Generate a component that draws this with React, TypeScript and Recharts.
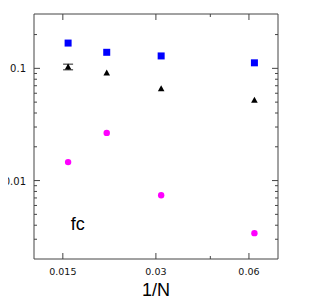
import React from 'react';
import { ScatterChart, Scatter, XAxis, YAxis, ErrorBar, ReferenceDot } from 'recharts';

// 1/N values
const invN = [0.0156, 0.0208, 0.0312, 0.0625];
const squareVals = [0.168, 0.139, 0.129, 0.112];
const triangleVals = [0.103, 0.091, 0.0657, 0.052];
const triangleErr: (number | null)[] = [0.006, null, null, null];
const circleVals = [0.0146, 0.0266, 0.0074, 0.0034];

const xTicks = [0.015, 0.03, 0.045, 0.06];
const xMajor = [0.015, 0.03, 0.06];
const yTicks = [0.003, 0.004, 0.005, 0.006, 0.007, 0.008, 0.009, 0.01, 0.02, 0.03, 0.04, 0.05, 0.06, 0.07, 0.08, 0.09, 0.1, 0.2];
const yMajor = [0.01, 0.1];
const xLabel = '1/N';
const annotation = 'fc';

const squareData = invN.map((x, i) => ({ x, y: squareVals[i] }));
const triangleData = invN.map((x, i) => ({ x, y: triangleVals[i], err: triangleErr[i] }));
const circleData = invN.map((x, i) => ({ x, y: circleVals[i] }));

const FRAME = '#444';
const MAJ = 6;
const MIN = 3;

const BottomTick = (p: any) => {
  const v = p.payload.value;
  const major = xMajor.includes(v);
  return (
    <g>
      <line x1={p.x} x2={p.x} y1={p.y} y2={p.y - (major ? MAJ : MIN)} stroke={FRAME} />
      {major && (
        <text x={p.x} y={p.y + 16} textAnchor="middle" fontSize={9.5} fontFamily="DejaVu Sans" fill="#111">
          {String(v)}
        </text>
      )}
    </g>
  );
};
const TopTick = (p: any) => {
  const v = p.payload.value;
  const major = xMajor.includes(v);
  return <line x1={p.x} x2={p.x} y1={p.y} y2={p.y + (major ? MAJ : MIN)} stroke={FRAME} />;
};
const LeftTick = (p: any) => {
  const v = p.payload.value;
  const major = yMajor.includes(v);
  return (
    <g>
      <line x1={p.x} x2={p.x + (major ? MAJ : MIN)} y1={p.y} y2={p.y} stroke={FRAME} />
      {major && (
        <text x={p.x - 8} y={p.y + 4} textAnchor="end" fontSize={10} fontFamily="DejaVu Sans" fill="#111">
          {String(v)}
        </text>
      )}
    </g>
  );
};
const RightTick = (p: any) => {
  const v = p.payload.value;
  const major = yMajor.includes(v);
  return <line x1={p.x} x2={p.x - (major ? MAJ : MIN)} y1={p.y} y2={p.y} stroke={FRAME} />;
};

const SquareShape = (p: any) => (
  <rect x={p.cx - 3.5} y={p.cy - 3.5} width={7} height={7} fill="#0000ff" />
);
const TriangleShape = (p: any) => (
  <polygon
    points={`${p.cx},${p.cy - 3.5} ${p.cx - 3.3},${p.cy + 2.5} ${p.cx + 3.3},${p.cy + 2.5}`}
    fill="#000"
  />
);
const CircleShape = (p: any) => <circle cx={p.cx} cy={p.cy} r={3.2} fill="#ff00ff" />;
const NoShape = () => <g />;

const AnnotationLabel = (p: any) => {
  const vb = p.viewBox || {};
  return (
    <text x={vb.x} y={vb.y} fontSize={18} fontFamily="Liberation Sans" fill="#000">
      {annotation}
    </text>
  );
};

const xDomain: [number, number] = [0.0121, 0.0745];
const yDomain: [number, number] = [0.002, 0.305];

export default function App() {
  return (
    <div style={{ margin: '-8px 0 0 -8px', width: 334, height: 300 }}>
      <ScatterChart width={334} height={300} margin={{ top: 0, right: 0, bottom: 0, left: 0 }}>
        <XAxis
          xAxisId="b"
          type="number"
          dataKey="x"
          scale="log"
          domain={xDomain}
          allowDataOverflow
          ticks={xTicks}
          interval={0}
          tickSize={0}
          tickMargin={0}
          tick={<BottomTick />}
          height={41}
          axisLine={{ stroke: FRAME }}
          label={{ value: xLabel, position: 'insideBottom', offset: 4, fontSize: 18, fontFamily: 'Liberation Sans', fill: '#000' }}
        />
        <XAxis
          xAxisId="t"
          orientation="top"
          type="number"
          dataKey="x"
          scale="log"
          domain={xDomain}
          allowDataOverflow
          ticks={xTicks}
          interval={0}
          tickSize={0}
          tickMargin={0}
          tick={<TopTick />}
          height={14}
          axisLine={{ stroke: FRAME }}
        />
        <YAxis
          yAxisId="l"
          type="number"
          dataKey="y"
          scale="log"
          domain={yDomain}
          allowDataOverflow
          ticks={yTicks}
          interval={0}
          tickSize={0}
          tickMargin={0}
          tick={<LeftTick />}
          width={34}
          axisLine={{ stroke: FRAME }}
        />
        <YAxis
          yAxisId="r"
          orientation="right"
          type="number"
          dataKey="y"
          scale="log"
          domain={yDomain}
          allowDataOverflow
          ticks={yTicks}
          interval={0}
          tickSize={0}
          tickMargin={0}
          tick={<RightTick />}
          width={56}
          axisLine={{ stroke: FRAME }}
        />
        <Scatter xAxisId="t" yAxisId="r" data={squareData} shape={<NoShape />} isAnimationActive={false} />
        <Scatter xAxisId="b" yAxisId="l" data={squareData} shape={<SquareShape />} isAnimationActive={false} />
        <Scatter xAxisId="b" yAxisId="l" data={triangleData} shape={<TriangleShape />} isAnimationActive={false}>
          <ErrorBar dataKey="err" direction="y" width={5} stroke="#222" strokeWidth={1} />
        </Scatter>
        <Scatter xAxisId="b" yAxisId="l" data={circleData} shape={<CircleShape />} isAnimationActive={false} />
        <ReferenceDot
          xAxisId="b"
          yAxisId="l"
          x={0.0159}
          y={0.0036}
          r={0}
          fill="none"
          stroke="none"
          label={<AnnotationLabel />}
        />
      </ScatterChart>
    </div>
  );
}
